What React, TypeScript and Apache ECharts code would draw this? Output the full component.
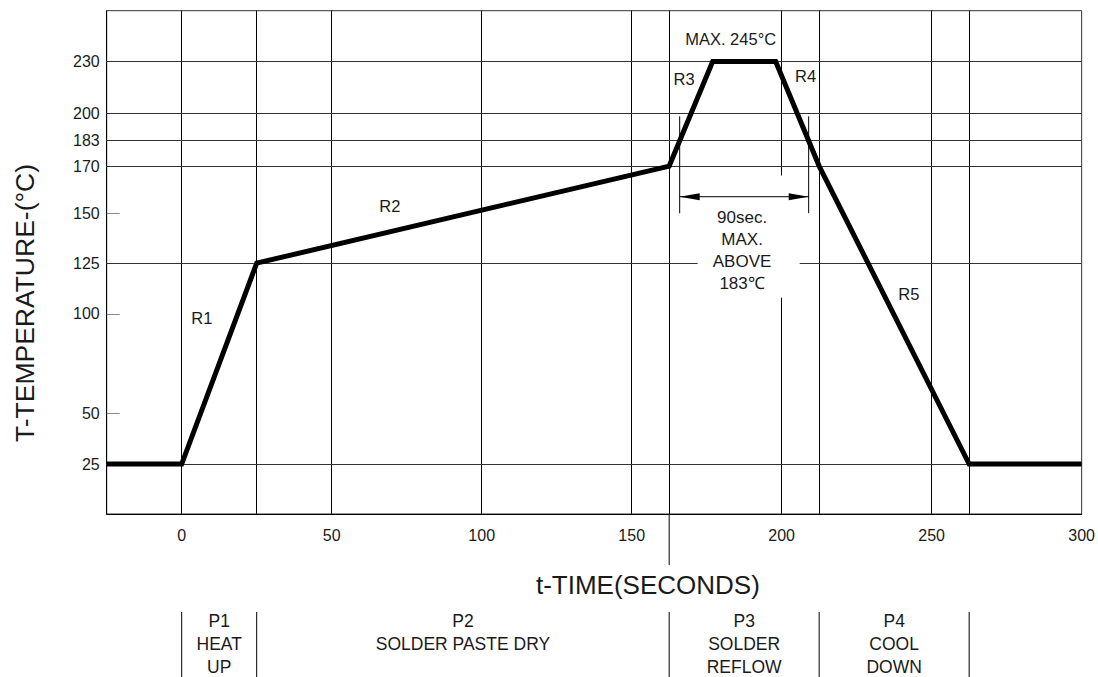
import React, { useEffect, useRef } from "react";
import * as echarts from "echarts";

// ---- data ----
const timeValues = [-25, 0, 25, 162.5, 177, 198, 212.5, 262.5, 300];
const tempValues = [25, 25, 125, 170, 230, 230, 170, 25, 25];

const xTickLabels = [0, 50, 100, 150, 200, 250, 300];
const yTickLabels = [25, 50, 100, 125, 150, 170, 183, 200, 230];
// the temperature scale of the drawing is schematic: where each labelled temperature sits on the axis
const yTickLevels = [25, 50.4, 100.2, 125.6, 150.6, 174.2, 187.2, 200.7, 226.6];

const verticalGuides = [0, 25, 50, 100, 150, 162.5, 200, 212.5, 250, 262.5];
const horizontalGuides = [25, 125, 170, 183, 200, 230];

const phaseBounds = [0, 25, 162.5, 212.5, 262.5];
const phaseLabels = ["P1\nHEAT\nUP", "P2\nSOLDER PASTE DRY", "P3\nSOLDER\nREFLOW", "P4\nCOOL\nDOWN"];

const segmentNames = ["R1", "R2", "R3", "R4", "R5"];
const segmentAnchorTime = [6.7, 69.4, 167.5, 208, 242.4];
const segmentAnchorTemp = [98, 153, 220, 221.7, 110];

const windowTimes = [166, 209];
const windowTempRange = [150, 198];
const windowArrowTemp = 157;
const windowText = "90sec.\nMAX.\nABOVE\n183℃";
const peakText = "MAX. 245°C";

const FONT = "'Liberation Sans', Arial, Helvetica, sans-serif";
const INK = "#1a1a1a";

function level(t: number): number {
  const n = yTickLabels.length;
  if (t <= yTickLabels[0]) return yTickLevels[0] + (t - yTickLabels[0]);
  if (t >= yTickLabels[n - 1]) return yTickLevels[n - 1] + (t - yTickLabels[n - 1]);
  for (let i = 0; i < n - 1; i++) {
    const a = yTickLabels[i], b = yTickLabels[i + 1];
    if (t >= a && t <= b) {
      const f = (t - a) / (b - a);
      return yTickLevels[i] + f * (yTickLevels[i + 1] - yTickLevels[i]);
    }
  }
  return t;
}

export default function App() {
  const ref = useRef<HTMLDivElement>(null);
  useEffect(() => {
    const chart = echarts.init(ref.current!, null, { renderer: "svg" });
    const gridLeft = 106.7, gridTop = 10.7, gridW = 975, gridH = 503.3;
    chart.setOption({
      animation: false,
      grid: {
        left: gridLeft, top: gridTop, width: gridW, height: gridH,
        show: true, borderColor: "#333", borderWidth: 1, backgroundColor: "transparent",
      },
      xAxis: {
        type: "value", min: -25, max: 300,
        axisLine: { show: true, onZero: false, lineStyle: { color: "#000", width: 1 } },
        axisTick: { show: false },
        splitLine: { show: false },
        axisLabel: {
          customValues: xTickLabels, fontSize: 16, fontFamily: FONT, color: INK, margin: 13,
          formatter: (v: number) => String(v),
        },
      },
      yAxis: {
        type: "value", min: 0, max: 252,
        axisLine: { show: true, onZero: false, lineStyle: { color: "#000", width: 1 } },
        axisTick: { show: true, inside: true, length: 13, customValues: yTickLevels, lineStyle: { color: "#888" } },
        splitLine: { show: false },
        axisLabel: {
          customValues: yTickLevels, fontSize: 16, fontFamily: FONT, color: INK, margin: 7,
          formatter: (v: number) => {
            const i = yTickLevels.findIndex((l) => Math.abs(l - v) < 1e-6);
            return i >= 0 ? String(yTickLabels[i]) : "";
          },
        },
      },
      series: [
        {
          type: "line", data: [[-25, 0]], symbol: "none", lineStyle: { opacity: 0 }, z: 1, silent: true,
          markLine: {
            z: 1,
            silent: true, symbol: ["none", "none"], label: { show: false }, animation: false,
            lineStyle: { type: "solid", width: 1 },
            data: [
              ...verticalGuides.map((v) => ({ xAxis: v, lineStyle: { color: "#000", width: 1, type: "solid" } })),
              ...horizontalGuides.map((t) => ({ yAxis: level(t), lineStyle: { color: "#333", width: 1, type: "solid" } })),
            ],
          },
        },
        {
          type: "line", z: 10, symbol: "none", silent: true,
          data: timeValues.map((t, i) => [t, level(tempValues[i])]),
          lineStyle: { color: "#000", width: 5, join: "miter" },
        },
      ],
    });

    const P = (t: number, temp: number) =>
      chart.convertToPixel({ xAxisIndex: 0, yAxisIndex: 0 }, [t, level(temp)]) as number[];
    const X = (t: number) => P(t, 25)[0];
    const bottom = gridTop + gridH;
    const g: any[] = [];
    const txt = (x: number, y: number, text: string, size = 16, extra: any = {}) => ({
      type: "text", x, y, z: 30,
      style: {
        text, fill: INK, fontSize: size, fontFamily: FONT,
        align: "center", verticalAlign: "middle", textAlign: "center", textVerticalAlign: "middle",
        lineHeight: 22,
        ...extra,
      },
    });

    // white gap behind the 90 sec note
    const r0 = P(172, 166), r1 = P(206, 108);
    g.push({ type: "rect", z: 8, shape: { x: r0[0], y: r0[1], width: r1[0] - r0[0], height: r1[1] - r0[1] }, style: { fill: "#fff" } });

    // window markers
    windowTimes.forEach((t) => {
      const a = P(t, windowTempRange[1]), b = P(t, windowTempRange[0]);
      g.push({ type: "line", z: 20, shape: { x1: a[0], y1: a[1], x2: b[0], y2: b[1] }, style: { stroke: "#000", lineWidth: 1 } });
    });
    const al = P(windowTimes[0], windowArrowTemp), ar = P(windowTimes[1], windowArrowTemp);
    g.push({ type: "line", z: 20, shape: { x1: al[0], y1: al[1], x2: ar[0], y2: ar[1] }, style: { stroke: "#000", lineWidth: 1 } });
    g.push({ type: "polygon", z: 20, shape: { points: [[al[0], al[1]], [al[0] + 20, al[1] - 3.5], [al[0] + 20, al[1] + 3.5]] }, style: { fill: "#000" } });
    g.push({ type: "polygon", z: 20, shape: { points: [[ar[0], ar[1]], [ar[0] - 20, ar[1] - 3.5], [ar[0] - 20, ar[1] + 3.5]] }, style: { fill: "#000" } });
    const wc = P((windowTimes[0] + windowTimes[1]) / 2 - 0.7, 131.2);
    g.push(txt(wc[0], wc[1], windowText, 17, { lineHeight: 22 }));

    // peak note
    const pk = P(183, 241);
    g.push(txt(pk[0], pk[1], peakText, 16.5));

    // segment names
    segmentNames.forEach((s, i) => {
      const p = P(segmentAnchorTime[i], segmentAnchorTemp[i]);
      g.push(txt(p[0], p[1], s, 16.5));
    });

    // time marker extending below the plot
    const xm = X(162.5);
    g.push({ type: "line", z: 20, shape: { x1: xm, y1: bottom, x2: xm, y2: 565 }, style: { stroke: "#000", lineWidth: 1 } });

    // axis titles
    g.push(txt(X(155.4), 585, "t-TIME(SECONDS)", 26));
    g.push({ ...txt(25, 303, "T-TEMPERATURE-(°C)", 26.5), rotation: Math.PI / 2 });

    // phase table
    phaseBounds.forEach((b) => {
      const x = X(b);
      g.push({ type: "line", z: 20, shape: { x1: x, y1: 612, x2: x, y2: 677 }, style: { stroke: "#000", lineWidth: 1 } });
    });
    phaseLabels.forEach((lab, i) => {
      const cx = (X(phaseBounds[i]) + X(phaseBounds[i + 1])) / 2;
      g.push({
        type: "text", x: cx, y: 609, z: 30,
        style: {
          text: lab, fill: INK, fontSize: 17.5, fontFamily: FONT, lineHeight: 23,
          align: "center", verticalAlign: "top", textAlign: "center", textVerticalAlign: "top",
        },
      });
    });

    chart.setOption({ graphic: g });
    return () => chart.dispose();
  }, []);
  return (
    <div
      ref={ref}
      style={{ position: "fixed", left: 0, top: 0, width: 1098, height: 677, background: "#fff" }}
    />
  );
}
